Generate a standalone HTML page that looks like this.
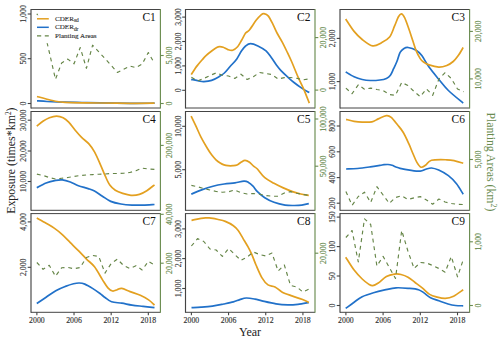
<!DOCTYPE html><html><head><meta charset="utf-8"><style>html,body{margin:0;padding:0;background:#fff;width:500px;height:341px;overflow:hidden}svg{display:block}text{font-family:"Liberation Serif",serif;stroke-width:0.14px}</style></head><body>
<svg width="500" height="341" viewBox="0 0 500 341">
<rect width="500" height="341" fill="#fff"/>
<defs><clipPath id="cp1"><rect x="31.00" y="9.50" width="129.40" height="98.50"/></clipPath><clipPath id="cp2"><rect x="185.50" y="9.50" width="129.50" height="98.50"/></clipPath><clipPath id="cp3"><rect x="340.00" y="9.50" width="129.60" height="98.50"/></clipPath><clipPath id="cp4"><rect x="31.00" y="111.50" width="129.40" height="98.80"/></clipPath><clipPath id="cp5"><rect x="185.50" y="111.50" width="129.50" height="98.80"/></clipPath><clipPath id="cp6"><rect x="340.00" y="111.50" width="129.60" height="98.80"/></clipPath><clipPath id="cp7"><rect x="31.00" y="213.60" width="129.40" height="98.70"/></clipPath><clipPath id="cp8"><rect x="185.50" y="213.60" width="129.50" height="98.70"/></clipPath><clipPath id="cp9"><rect x="340.00" y="213.60" width="129.60" height="98.70"/></clipPath></defs>
<g clip-path="url(#cp1)" fill="none" stroke-linejoin="round">
<path d="M37.00 100.80 C38.67 100.92 43.67 101.30 47.00 101.50 C50.33 101.70 54.00 101.88 57.00 102.00 C60.00 102.12 60.83 102.12 65.00 102.20 C69.17 102.28 76.17 102.38 82.00 102.50 C87.83 102.62 92.00 102.77 100.00 102.90 C108.00 103.03 120.90 103.25 130.00 103.30 C139.10 103.35 150.50 103.22 154.60 103.20" stroke="#2171C9" stroke-width="1.7"/>
<path d="M37.00 96.50 C38.67 96.95 43.67 98.37 47.00 99.20 C50.33 100.03 54.00 100.98 57.00 101.50 C60.00 102.02 60.83 102.08 65.00 102.30 C69.17 102.52 76.17 102.68 82.00 102.80 C87.83 102.92 92.00 102.92 100.00 103.00 C108.00 103.08 120.90 103.27 130.00 103.30 C139.10 103.33 150.50 103.22 154.60 103.20" stroke="#E3A020" stroke-width="1.7"/>
<path d="M36.88 13.80 L43.07 25.60 L49.26 52.00 L55.46 79.30 L61.65 63.00 L67.84 59.10 L74.03 63.80 L80.22 47.50 L86.41 68.30 L92.60 45.20 L98.80 51.80 L104.99 58.60 L111.18 65.40 L117.37 72.40 L123.56 69.20 L129.75 66.10 L135.94 67.60 L142.14 64.10 L148.33 52.50 L154.52 63.50" stroke="#658547" stroke-width="1.15" stroke-dasharray="3.9 3.8"/>
</g>
<rect x="34" y="15.2" width="66" height="28.0" fill="#fff"/>
<line x1="37" y1="18.8" x2="48.8" y2="18.8" stroke="#E3A020" stroke-width="1.5"/>
<line x1="37" y1="27.3" x2="48.8" y2="27.3" stroke="#2171C9" stroke-width="1.5"/>
<line x1="37" y1="35.9" x2="48.8" y2="35.9" stroke="#658547" stroke-width="1.1" stroke-dasharray="4.2 3.6"/>
<text x="55" y="21.0" font-size="7.1" fill="#333333" stroke="#333333">CDER<tspan font-size="5.4" dy="1.2">sd</tspan></text>
<text x="55" y="29.4" font-size="7.1" fill="#333333" stroke="#333333">CDER<tspan font-size="5.4" dy="1.2">dr</tspan></text>
<text x="55" y="38.0" font-size="7.1" fill="#333333" stroke="#333333">Planting Areas</text>
<path d="M31.00 9.50 H160.40" stroke="#444444" stroke-width="1.0" fill="none"/>
<path d="M31.00 108.00 H160.40" stroke="#444444" stroke-width="1.0" fill="none"/>
<path d="M31.00 9.00 V108.50" stroke="#444444" stroke-width="1.15" fill="none"/>
<path d="M160.40 9.00 V108.50" stroke="#6A8C50" stroke-width="1.15" fill="none"/>
<path d="M27.70 14.00 H31.00" stroke="#444444" stroke-width="1.1"/>
<text transform="translate(26.10 14.00) rotate(-90)" text-anchor="middle" font-size="7.8" fill="#333333" stroke="#333333">1,000</text>
<path d="M27.70 58.70 H31.00" stroke="#444444" stroke-width="1.1"/>
<text transform="translate(26.10 58.70) rotate(-90)" text-anchor="middle" font-size="7.8" fill="#333333" stroke="#333333">500</text>
<path d="M27.70 103.50 H31.00" stroke="#444444" stroke-width="1.1"/>
<text transform="translate(26.10 103.50) rotate(-90)" text-anchor="middle" font-size="7.8" fill="#333333" stroke="#333333">0</text>
<path d="M160.40 55.50 H163.70" stroke="#6A8C50" stroke-width="1.1"/>
<text transform="translate(171.70 55.50) rotate(-90)" text-anchor="middle" font-size="7.8" fill="#608445" stroke="#608445">5,000</text>
<path d="M160.40 103.50 H163.70" stroke="#6A8C50" stroke-width="1.1"/>
<text transform="translate(171.70 103.50) rotate(-90)" text-anchor="middle" font-size="7.8" fill="#608445" stroke="#608445">0</text>
<text x="155.80" y="20.80" text-anchor="end" font-size="11.5" fill="#111">C1</text>
<g clip-path="url(#cp2)" fill="none" stroke-linejoin="round">
<path d="M191.20 79.30 C192.47 79.58 196.68 80.62 198.80 81.00 C200.92 81.38 201.77 81.70 203.90 81.60 C206.03 81.50 209.03 81.25 211.60 80.40 C214.17 79.55 217.17 77.73 219.30 76.50 C221.43 75.27 222.57 74.70 224.40 73.00 C226.23 71.30 228.23 68.65 230.30 66.30 C232.37 63.95 234.92 61.48 236.80 58.90 C238.68 56.32 240.13 52.95 241.60 50.80 C243.07 48.65 244.12 47.20 245.60 46.00 C247.08 44.80 248.45 43.62 250.50 43.60 C252.55 43.58 255.32 44.68 257.90 45.90 C260.48 47.12 263.77 48.97 266.00 50.90 C268.23 52.83 269.57 55.15 271.30 57.50 C273.03 59.85 274.78 62.82 276.40 65.00 C278.02 67.18 279.17 68.65 281.00 70.60 C282.83 72.55 285.23 74.72 287.40 76.70 C289.57 78.68 291.73 80.68 294.00 82.50 C296.27 84.32 298.45 85.92 301.00 87.60 C303.55 89.28 307.92 91.77 309.30 92.60" stroke="#2171C9" stroke-width="1.7"/>
<path d="M191.30 74.60 C191.97 73.53 194.08 69.97 195.30 68.20 C196.52 66.43 197.45 65.40 198.60 64.00 C199.75 62.60 200.97 61.20 202.20 59.80 C203.43 58.40 204.37 57.10 206.00 55.60 C207.63 54.10 210.22 52.13 212.00 50.80 C213.78 49.47 215.43 48.28 216.70 47.60 C217.97 46.92 218.52 46.75 219.60 46.70 C220.68 46.65 221.82 46.82 223.20 47.30 C224.58 47.78 226.32 49.12 227.90 49.60 C229.48 50.08 231.08 50.67 232.70 50.20 C234.32 49.73 236.12 48.45 237.60 46.80 C239.08 45.15 240.27 42.58 241.60 40.30 C242.93 38.02 244.33 34.78 245.60 33.10 C246.87 31.42 247.42 32.37 249.20 30.20 C250.98 28.03 254.32 22.67 256.30 20.10 C258.28 17.53 259.82 15.88 261.10 14.80 C262.38 13.72 262.78 13.38 264.00 13.60 C265.22 13.82 266.87 14.22 268.40 16.10 C269.93 17.98 271.72 22.00 273.20 24.90 C274.68 27.80 275.82 30.67 277.30 33.50 C278.78 36.33 280.50 38.90 282.10 41.90 C283.70 44.90 285.28 48.15 286.90 51.50 C288.52 54.85 289.92 57.68 291.80 62.00 C293.68 66.32 296.20 72.85 298.20 77.40 C300.20 81.95 301.95 85.02 303.80 89.30 C305.65 93.58 308.38 100.80 309.30 103.10" stroke="#E3A020" stroke-width="1.7"/>
<path d="M191.39 77.20 L197.58 81.00 L203.78 78.50 L209.97 75.50 L216.17 72.90 L222.37 75.30 L228.56 76.00 L234.76 78.40 L240.96 74.20 L247.15 79.50 L253.35 76.70 L259.54 72.50 L265.74 73.50 L271.94 74.50 L278.13 79.00 L284.33 77.60 L290.53 77.50 L296.72 78.30 L302.92 79.90 L309.11 78.80" stroke="#658547" stroke-width="1.15" stroke-dasharray="3.9 3.8"/>
</g>
<path d="M185.50 9.50 H315.00" stroke="#444444" stroke-width="1.0" fill="none"/>
<path d="M185.50 108.00 H315.00" stroke="#444444" stroke-width="1.0" fill="none"/>
<path d="M185.50 9.00 V108.50" stroke="#444444" stroke-width="1.15" fill="none"/>
<path d="M315.00 9.00 V108.50" stroke="#6A8C50" stroke-width="1.15" fill="none"/>
<path d="M182.20 17.10 H185.50" stroke="#444444" stroke-width="1.1"/>
<text transform="translate(180.60 17.10) rotate(-90)" text-anchor="middle" font-size="7.8" fill="#333333" stroke="#333333">3,000</text>
<path d="M182.20 41.50 H185.50" stroke="#444444" stroke-width="1.1"/>
<text transform="translate(180.60 41.50) rotate(-90)" text-anchor="middle" font-size="7.8" fill="#333333" stroke="#333333">2,000</text>
<path d="M182.20 65.90 H185.50" stroke="#444444" stroke-width="1.1"/>
<text transform="translate(180.60 65.90) rotate(-90)" text-anchor="middle" font-size="7.8" fill="#333333" stroke="#333333">1,000</text>
<path d="M182.20 90.30 H185.50" stroke="#444444" stroke-width="1.1"/>
<text transform="translate(180.60 90.30) rotate(-90)" text-anchor="middle" font-size="7.8" fill="#333333" stroke="#333333">0</text>
<path d="M315.00 37.60 H318.30" stroke="#6A8C50" stroke-width="1.1"/>
<text transform="translate(326.30 37.60) rotate(-90)" text-anchor="middle" font-size="7.8" fill="#608445" stroke="#608445">20,000</text>
<path d="M315.00 90.10 H318.30" stroke="#6A8C50" stroke-width="1.1"/>
<text transform="translate(326.30 90.10) rotate(-90)" text-anchor="middle" font-size="7.8" fill="#608445" stroke="#608445">0</text>
<text x="310.40" y="20.80" text-anchor="end" font-size="11.5" fill="#111">C2</text>
<g clip-path="url(#cp3)" fill="none" stroke-linejoin="round">
<path d="M345.70 71.90 C347.10 72.72 351.35 75.53 354.10 76.80 C356.85 78.07 359.50 78.88 362.20 79.50 C364.90 80.12 367.35 80.42 370.30 80.50 C373.25 80.58 377.22 80.35 379.90 80.00 C382.58 79.65 384.65 79.20 386.40 78.40 C388.15 77.60 389.20 76.82 390.40 75.20 C391.60 73.58 392.52 70.98 393.60 68.70 C394.68 66.42 395.82 64.22 396.90 61.50 C397.98 58.78 398.92 54.57 400.10 52.40 C401.28 50.23 402.67 49.32 404.00 48.50 C405.33 47.68 406.08 47.20 408.10 47.50 C410.12 47.80 413.82 48.95 416.10 50.30 C418.38 51.65 419.65 52.80 421.80 55.60 C423.95 58.40 426.18 63.17 429.00 67.10 C431.82 71.03 435.47 75.30 438.70 79.20 C441.93 83.10 444.32 86.52 448.40 90.50 C452.48 94.48 460.73 101.00 463.20 103.10" stroke="#2171C9" stroke-width="1.7"/>
<path d="M345.70 19.00 C347.10 21.07 351.35 27.98 354.10 31.40 C356.85 34.82 359.10 37.08 362.20 39.50 C365.30 41.92 369.48 45.37 372.70 45.90 C375.92 46.43 378.68 44.18 381.50 42.70 C384.32 41.22 387.43 39.75 389.60 37.00 C391.77 34.25 393.05 29.53 394.50 26.20 C395.95 22.87 397.17 19.05 398.30 17.00 C399.43 14.95 400.25 13.80 401.30 13.90 C402.35 14.00 403.33 15.08 404.60 17.60 C405.87 20.12 407.52 25.08 408.90 29.00 C410.28 32.92 411.70 37.48 412.90 41.10 C414.10 44.72 414.88 47.78 416.10 50.70 C417.32 53.62 418.97 56.72 420.20 58.60 C421.43 60.48 422.03 60.95 423.50 62.00 C424.97 63.05 426.47 64.05 429.00 64.90 C431.53 65.75 435.73 67.00 438.70 67.10 C441.67 67.20 444.38 66.43 446.80 65.50 C449.22 64.57 451.32 63.12 453.20 61.50 C455.08 59.88 456.43 58.13 458.10 55.80 C459.77 53.47 462.35 48.88 463.20 47.50" stroke="#E3A020" stroke-width="1.7"/>
<path d="M345.89 88.10 L352.09 93.70 L358.29 84.80 L364.49 89.30 L370.69 88.10 L376.90 89.50 L383.10 90.50 L389.30 94.50 L395.50 95.30 L401.70 82.40 L407.90 85.60 L414.10 91.50 L420.30 96.60 L426.50 88.90 L432.70 95.30 L438.91 79.00 L445.11 72.70 L451.31 78.50 L457.51 89.00 L463.71 91.80" stroke="#658547" stroke-width="1.15" stroke-dasharray="3.9 3.8"/>
</g>
<path d="M340.00 9.50 H469.60" stroke="#444444" stroke-width="1.0" fill="none"/>
<path d="M340.00 108.00 H469.60" stroke="#444444" stroke-width="1.0" fill="none"/>
<path d="M340.00 9.00 V108.50" stroke="#444444" stroke-width="1.15" fill="none"/>
<path d="M469.60 9.00 V108.50" stroke="#6A8C50" stroke-width="1.15" fill="none"/>
<path d="M336.70 38.40 H340.00" stroke="#444444" stroke-width="1.1"/>
<text transform="translate(335.10 38.40) rotate(-90)" text-anchor="middle" font-size="7.8" fill="#333333" stroke="#333333">2,000</text>
<path d="M336.70 81.60 H340.00" stroke="#444444" stroke-width="1.1"/>
<text transform="translate(335.10 81.60) rotate(-90)" text-anchor="middle" font-size="7.8" fill="#333333" stroke="#333333">1,000</text>
<path d="M469.60 31.40 H472.90" stroke="#6A8C50" stroke-width="1.1"/>
<text transform="translate(480.90 31.40) rotate(-90)" text-anchor="middle" font-size="7.8" fill="#608445" stroke="#608445">20,000</text>
<path d="M469.60 78.90 H472.90" stroke="#6A8C50" stroke-width="1.1"/>
<text transform="translate(480.90 78.90) rotate(-90)" text-anchor="middle" font-size="7.8" fill="#608445" stroke="#608445">10,000</text>
<text x="465.00" y="20.80" text-anchor="end" font-size="11.5" fill="#111">C3</text>
<g clip-path="url(#cp4)" fill="none" stroke-linejoin="round">
<path d="M36.80 187.80 C38.35 187.00 42.93 184.23 46.10 183.00 C49.27 181.77 53.10 180.92 55.80 180.40 C58.50 179.88 59.88 179.63 62.30 179.90 C64.72 180.17 67.62 181.03 70.30 182.00 C72.98 182.97 75.43 184.60 78.40 185.70 C81.37 186.80 85.42 187.70 88.10 188.60 C90.78 189.50 92.12 189.83 94.50 191.10 C96.88 192.37 99.70 194.48 102.40 196.20 C105.10 197.92 107.62 200.10 110.70 201.40 C113.78 202.70 117.35 203.38 120.90 204.00 C124.45 204.62 128.30 204.92 132.00 205.10 C135.70 205.28 139.35 205.20 143.10 205.10 C146.85 205.00 152.60 204.60 154.50 204.50" stroke="#2171C9" stroke-width="1.7"/>
<path d="M36.80 126.10 C37.82 125.30 40.80 122.70 42.90 121.30 C45.00 119.90 47.12 118.57 49.40 117.70 C51.68 116.83 54.32 116.10 56.60 116.10 C58.88 116.10 61.08 116.70 63.10 117.70 C65.12 118.70 66.68 120.02 68.70 122.10 C70.72 124.18 73.05 127.65 75.20 130.20 C77.35 132.75 79.32 135.12 81.60 137.40 C83.88 139.68 86.75 141.48 88.90 143.90 C91.05 146.32 92.57 148.42 94.50 151.90 C96.43 155.38 98.72 160.80 100.50 164.80 C102.28 168.80 103.65 172.52 105.20 175.90 C106.75 179.28 108.12 182.70 109.80 185.10 C111.48 187.50 113.15 188.92 115.30 190.30 C117.45 191.68 120.08 192.57 122.70 193.40 C125.32 194.23 128.22 195.13 131.00 195.30 C133.78 195.47 136.77 195.17 139.40 194.40 C142.03 193.63 144.28 192.30 146.80 190.70 C149.32 189.10 153.22 185.78 154.50 184.80" stroke="#E3A020" stroke-width="1.7"/>
<path d="M36.88 174.10 L43.07 175.50 L49.26 177.50 L55.46 179.00 L61.65 178.30 L67.84 177.50 L74.03 176.50 L80.22 175.50 L86.41 175.00 L92.60 174.60 L98.80 174.20 L104.99 174.00 L111.18 173.50 L117.37 173.50 L123.56 173.30 L129.75 172.50 L135.94 170.80 L142.14 168.10 L148.33 169.00 L154.52 169.40" stroke="#658547" stroke-width="1.15" stroke-dasharray="3.9 3.8"/>
</g>
<path d="M31.00 111.50 H160.40" stroke="#444444" stroke-width="1.0" fill="none"/>
<path d="M31.00 210.30 H160.40" stroke="#444444" stroke-width="1.0" fill="none"/>
<path d="M31.00 111.00 V210.80" stroke="#444444" stroke-width="1.15" fill="none"/>
<path d="M160.40 111.00 V210.80" stroke="#6A8C50" stroke-width="1.15" fill="none"/>
<path d="M27.70 120.20 H31.00" stroke="#444444" stroke-width="1.1"/>
<text transform="translate(26.10 120.20) rotate(-90)" text-anchor="middle" font-size="7.8" fill="#333333" stroke="#333333">30,000</text>
<path d="M27.70 151.00 H31.00" stroke="#444444" stroke-width="1.1"/>
<text transform="translate(26.10 151.00) rotate(-90)" text-anchor="middle" font-size="7.8" fill="#333333" stroke="#333333">20,000</text>
<path d="M27.70 181.50 H31.00" stroke="#444444" stroke-width="1.1"/>
<text transform="translate(26.10 181.50) rotate(-90)" text-anchor="middle" font-size="7.8" fill="#333333" stroke="#333333">10,000</text>
<path d="M160.40 145.40 H163.70" stroke="#6A8C50" stroke-width="1.1"/>
<text transform="translate(171.70 145.40) rotate(-90)" text-anchor="middle" font-size="7.8" fill="#608445" stroke="#608445">200,000</text>
<text x="155.80" y="122.80" text-anchor="end" font-size="11.5" fill="#111">C4</text>
<g clip-path="url(#cp5)" fill="none" stroke-linejoin="round">
<path d="M191.30 194.10 C192.92 193.43 197.38 191.42 201.00 190.10 C204.62 188.78 209.13 187.22 213.00 186.20 C216.87 185.18 220.55 184.57 224.20 184.00 C227.85 183.43 231.60 183.27 234.90 182.80 C238.20 182.33 241.73 181.27 244.00 181.20 C246.27 181.13 247.00 181.57 248.50 182.40 C250.00 183.23 251.52 184.67 253.00 186.20 C254.48 187.73 255.43 189.68 257.40 191.60 C259.37 193.52 262.03 195.92 264.80 197.70 C267.57 199.48 270.62 201.07 274.00 202.30 C277.38 203.53 281.70 204.57 285.10 205.10 C288.50 205.63 291.62 205.50 294.40 205.50 C297.18 205.50 299.40 205.42 301.80 205.10 C304.20 204.78 307.63 203.85 308.80 203.60" stroke="#2171C9" stroke-width="1.7"/>
<path d="M191.10 116.10 C191.97 117.90 194.63 123.35 196.30 126.90 C197.97 130.45 199.22 133.77 201.10 137.40 C202.98 141.03 205.78 145.72 207.60 148.70 C209.42 151.68 210.60 153.45 212.00 155.30 C213.40 157.15 214.63 158.52 216.00 159.80 C217.37 161.08 218.87 162.15 220.20 163.00 C221.53 163.85 222.70 164.45 224.00 164.90 C225.30 165.35 226.50 165.57 228.00 165.70 C229.50 165.83 231.50 165.82 233.00 165.70 C234.50 165.58 235.67 165.57 237.00 165.00 C238.33 164.43 239.67 163.07 241.00 162.30 C242.33 161.53 243.58 160.42 245.00 160.40 C246.42 160.38 248.07 161.23 249.50 162.20 C250.93 163.17 252.28 165.07 253.60 166.20 C254.92 167.33 255.53 167.08 257.40 169.00 C259.27 170.92 262.03 175.32 264.80 177.70 C267.57 180.08 270.92 181.60 274.00 183.30 C277.08 185.00 280.22 186.52 283.30 187.90 C286.38 189.28 289.58 190.58 292.50 191.60 C295.42 192.62 298.08 193.38 300.80 194.00 C303.52 194.62 307.47 195.08 308.80 195.30" stroke="#E3A020" stroke-width="1.7"/>
<path d="M191.39 185.40 L197.58 186.80 L203.78 188.50 L209.97 190.00 L216.17 191.50 L222.37 192.20 L228.56 191.80 L234.76 190.00 L240.96 192.80 L247.15 194.00 L253.35 193.50 L259.54 194.30 L265.74 195.50 L271.94 196.20 L278.13 196.20 L284.33 193.00 L290.53 191.60 L296.72 193.20 L302.92 194.50 L309.11 195.30" stroke="#658547" stroke-width="1.15" stroke-dasharray="3.9 3.8"/>
</g>
<path d="M185.50 111.50 H315.00" stroke="#444444" stroke-width="1.0" fill="none"/>
<path d="M185.50 210.30 H315.00" stroke="#444444" stroke-width="1.0" fill="none"/>
<path d="M185.50 111.00 V210.80" stroke="#444444" stroke-width="1.15" fill="none"/>
<path d="M315.00 111.00 V210.80" stroke="#6A8C50" stroke-width="1.15" fill="none"/>
<path d="M182.20 126.30 H185.50" stroke="#444444" stroke-width="1.1"/>
<text transform="translate(180.60 126.30) rotate(-90)" text-anchor="middle" font-size="7.8" fill="#333333" stroke="#333333">10,000</text>
<path d="M182.20 169.70 H185.50" stroke="#444444" stroke-width="1.1"/>
<text transform="translate(180.60 169.70) rotate(-90)" text-anchor="middle" font-size="7.8" fill="#333333" stroke="#333333">5,000</text>
<path d="M315.00 119.00 H318.30" stroke="#6A8C50" stroke-width="1.1"/>
<text transform="translate(326.30 119.00) rotate(-90)" text-anchor="middle" font-size="7.8" fill="#608445" stroke="#608445">100,000</text>
<path d="M315.00 166.20 H318.30" stroke="#6A8C50" stroke-width="1.1"/>
<text transform="translate(326.30 166.20) rotate(-90)" text-anchor="middle" font-size="7.8" fill="#608445" stroke="#608445">50,000</text>
<text x="310.40" y="122.80" text-anchor="end" font-size="11.5" fill="#111">C5</text>
<g clip-path="url(#cp6)" fill="none" stroke-linejoin="round">
<path d="M346.10 169.00 C347.98 168.92 353.37 168.85 357.40 168.50 C361.43 168.15 366.55 167.42 370.30 166.90 C374.05 166.38 377.62 165.77 379.90 165.40 C382.18 165.03 382.65 164.85 384.00 164.70 C385.35 164.55 386.67 164.40 388.00 164.50 C389.33 164.60 390.67 164.88 392.00 165.30 C393.33 165.72 394.65 166.50 396.00 167.00 C397.35 167.50 397.82 167.78 400.10 168.30 C402.38 168.82 406.35 169.62 409.70 170.10 C413.05 170.58 417.52 171.33 420.20 171.20 C422.88 171.07 423.92 169.83 425.80 169.30 C427.68 168.77 429.35 167.87 431.50 168.00 C433.65 168.13 435.88 168.82 438.70 170.10 C441.52 171.38 445.43 173.42 448.40 175.70 C451.37 177.98 454.03 180.70 456.50 183.80 C458.97 186.90 462.08 192.55 463.20 194.30" stroke="#2171C9" stroke-width="1.7"/>
<path d="M346.10 119.40 C347.43 119.72 351.42 120.85 354.10 121.30 C356.78 121.75 359.23 122.02 362.20 122.10 C365.17 122.18 369.22 122.33 371.90 121.80 C374.58 121.27 375.88 119.93 378.30 118.90 C380.72 117.87 384.25 115.87 386.40 115.60 C388.55 115.33 389.32 115.73 391.20 117.30 C393.08 118.87 395.68 122.47 397.70 125.00 C399.72 127.53 401.43 129.35 403.30 132.50 C405.17 135.65 407.30 140.40 408.90 143.90 C410.50 147.40 411.57 150.42 412.90 153.50 C414.23 156.58 415.55 160.12 416.90 162.40 C418.25 164.68 419.52 166.77 421.00 167.20 C422.48 167.63 424.05 166.15 425.80 165.00 C427.55 163.85 428.00 161.17 431.50 160.30 C435.00 159.43 442.92 159.72 446.80 159.80 C450.68 159.88 452.07 160.23 454.80 160.80 C457.53 161.37 461.80 162.80 463.20 163.20" stroke="#E3A020" stroke-width="1.7"/>
<path d="M345.89 191.50 L352.09 205.30 L358.29 196.50 L364.49 192.20 L370.69 202.50 L376.90 186.70 L383.10 195.00 L389.30 203.40 L395.50 197.50 L401.70 195.80 L407.90 199.50 L414.10 197.80 L420.30 196.60 L426.50 200.00 L432.70 204.20 L438.91 199.00 L445.11 202.00 L451.31 203.50 L457.51 204.30 L463.71 204.50" stroke="#658547" stroke-width="1.15" stroke-dasharray="3.9 3.8"/>
</g>
<path d="M340.00 111.50 H469.60" stroke="#444444" stroke-width="1.0" fill="none"/>
<path d="M340.00 210.30 H469.60" stroke="#444444" stroke-width="1.0" fill="none"/>
<path d="M340.00 111.00 V210.80" stroke="#444444" stroke-width="1.15" fill="none"/>
<path d="M469.60 111.00 V210.80" stroke="#6A8C50" stroke-width="1.15" fill="none"/>
<path d="M336.70 126.00 H340.00" stroke="#444444" stroke-width="1.1"/>
<text transform="translate(335.10 126.00) rotate(-90)" text-anchor="middle" font-size="7.8" fill="#333333" stroke="#333333">800</text>
<path d="M336.70 151.80 H340.00" stroke="#444444" stroke-width="1.1"/>
<text transform="translate(335.10 151.80) rotate(-90)" text-anchor="middle" font-size="7.8" fill="#333333" stroke="#333333">600</text>
<path d="M336.70 177.60 H340.00" stroke="#444444" stroke-width="1.1"/>
<text transform="translate(335.10 177.60) rotate(-90)" text-anchor="middle" font-size="7.8" fill="#333333" stroke="#333333">400</text>
<path d="M336.70 203.20 H340.00" stroke="#444444" stroke-width="1.1"/>
<text transform="translate(335.10 203.20) rotate(-90)" text-anchor="middle" font-size="7.8" fill="#333333" stroke="#333333">200</text>
<path d="M469.60 159.50 H472.90" stroke="#6A8C50" stroke-width="1.1"/>
<text transform="translate(480.90 159.50) rotate(-90)" text-anchor="middle" font-size="7.8" fill="#608445" stroke="#608445">5,000</text>
<text x="465.00" y="122.80" text-anchor="end" font-size="11.5" fill="#111">C6</text>
<g clip-path="url(#cp7)" fill="none" stroke-linejoin="round">
<path d="M36.80 303.50 C38.35 302.45 42.93 299.33 46.10 297.20 C49.27 295.07 52.57 292.50 55.80 290.70 C59.03 288.90 62.55 287.55 65.50 286.40 C68.45 285.25 71.22 284.37 73.50 283.80 C75.78 283.23 77.32 282.95 79.20 283.00 C81.08 283.05 82.52 283.17 84.80 284.10 C87.08 285.03 90.37 287.03 92.90 288.60 C95.43 290.17 97.98 292.02 100.00 293.50 C102.02 294.98 103.07 296.12 105.00 297.50 C106.93 298.88 108.80 300.85 111.60 301.80 C114.40 302.75 118.40 302.65 121.80 303.20 C125.20 303.75 128.45 304.57 132.00 305.10 C135.55 305.63 139.35 305.97 143.10 306.40 C146.85 306.83 152.60 307.48 154.50 307.70" stroke="#2171C9" stroke-width="1.7"/>
<path d="M36.80 218.10 C38.35 218.97 43.20 221.63 46.10 223.30 C49.00 224.97 51.50 226.22 54.20 228.10 C56.90 229.98 59.62 232.18 62.30 234.60 C64.98 237.02 67.62 239.92 70.30 242.60 C72.98 245.28 75.70 247.95 78.40 250.70 C81.10 253.45 83.82 256.42 86.50 259.10 C89.18 261.78 91.85 263.38 94.50 266.80 C97.15 270.22 100.17 276.08 102.40 279.60 C104.63 283.12 106.20 286.00 107.90 287.90 C109.60 289.80 111.05 290.70 112.60 291.00 C114.15 291.30 115.67 290.13 117.20 289.70 C118.73 289.27 119.65 288.08 121.80 288.40 C123.95 288.72 127.02 290.45 130.10 291.60 C133.18 292.75 137.22 293.92 140.30 295.30 C143.38 296.68 146.23 298.27 148.60 299.90 C150.97 301.53 153.52 304.23 154.50 305.10" stroke="#E3A020" stroke-width="1.7"/>
<path d="M36.88 262.50 L43.07 269.30 L49.26 265.30 L55.46 276.20 L61.65 267.80 L67.84 267.40 L74.03 268.80 L80.22 267.50 L86.41 257.50 L92.60 255.50 L98.80 256.50 L104.99 273.10 L111.18 263.50 L117.37 259.20 L123.56 265.50 L129.75 268.50 L135.94 265.70 L142.14 270.00 L148.33 261.30 L154.52 265.00" stroke="#658547" stroke-width="1.15" stroke-dasharray="3.9 3.8"/>
</g>
<path d="M31.00 213.60 H160.40" stroke="#444444" stroke-width="1.0" fill="none"/>
<path d="M31.00 312.30 H160.40" stroke="#444444" stroke-width="1.0" fill="none"/>
<path d="M31.00 213.10 V312.80" stroke="#444444" stroke-width="1.15" fill="none"/>
<path d="M160.40 213.10 V312.80" stroke="#6A8C50" stroke-width="1.15" fill="none"/>
<path d="M27.70 221.90 H31.00" stroke="#444444" stroke-width="1.1"/>
<text transform="translate(26.10 221.90) rotate(-90)" text-anchor="middle" font-size="7.8" fill="#333333" stroke="#333333">4,000</text>
<path d="M27.70 267.30 H31.00" stroke="#444444" stroke-width="1.1"/>
<text transform="translate(26.10 267.30) rotate(-90)" text-anchor="middle" font-size="7.8" fill="#333333" stroke="#333333">2,000</text>
<path d="M160.40 214.30 H163.70" stroke="#6A8C50" stroke-width="1.1"/>
<text transform="translate(171.70 214.30) rotate(-90)" text-anchor="middle" font-size="7.8" fill="#608445" stroke="#608445">40,000</text>
<path d="M160.40 263.20 H163.70" stroke="#6A8C50" stroke-width="1.1"/>
<text transform="translate(171.70 263.20) rotate(-90)" text-anchor="middle" font-size="7.8" fill="#608445" stroke="#608445">20,000</text>
<text x="155.80" y="224.90" text-anchor="end" font-size="11.5" fill="#111">C7</text>
<path d="M36.88 312.30 V315.30" stroke="#444444" stroke-width="1.1"/>
<text x="36.88" y="322.70" text-anchor="middle" font-size="7.8" fill="#333333" stroke="#333333">2000</text>
<path d="M74.03 312.30 V315.30" stroke="#444444" stroke-width="1.1"/>
<text x="74.03" y="322.70" text-anchor="middle" font-size="7.8" fill="#333333" stroke="#333333">2006</text>
<path d="M111.18 312.30 V315.30" stroke="#444444" stroke-width="1.1"/>
<text x="111.18" y="322.70" text-anchor="middle" font-size="7.8" fill="#333333" stroke="#333333">2012</text>
<path d="M148.33 312.30 V315.30" stroke="#444444" stroke-width="1.1"/>
<text x="148.33" y="322.70" text-anchor="middle" font-size="7.8" fill="#333333" stroke="#333333">2018</text>
<g clip-path="url(#cp8)" fill="none" stroke-linejoin="round">
<path d="M191.50 307.70 C193.10 307.62 197.62 307.47 201.10 307.20 C204.58 306.93 208.63 306.63 212.40 306.10 C216.17 305.57 220.20 304.70 223.70 304.00 C227.20 303.30 230.72 302.63 233.40 301.90 C236.08 301.17 237.65 300.25 239.80 299.60 C241.95 298.95 243.77 298.08 246.30 298.00 C248.83 297.92 252.38 298.62 255.00 299.10 C257.62 299.58 258.50 300.10 262.00 300.90 C265.50 301.70 271.68 303.23 276.00 303.90 C280.32 304.57 284.25 304.83 287.90 304.90 C291.55 304.97 294.40 304.70 297.90 304.30 C301.40 303.90 307.07 302.80 308.90 302.50" stroke="#2171C9" stroke-width="1.7"/>
<path d="M191.50 220.40 C192.25 220.22 194.40 219.63 196.00 219.30 C197.60 218.97 199.52 218.63 201.10 218.40 C202.68 218.17 204.15 218.00 205.50 217.90 C206.85 217.80 207.95 217.73 209.20 217.80 C210.45 217.87 211.65 218.05 213.00 218.30 C214.35 218.55 215.25 218.78 217.30 219.30 C219.35 219.82 222.62 220.33 225.30 221.40 C227.98 222.47 231.25 224.18 233.40 225.70 C235.55 227.22 236.58 228.35 238.20 230.50 C239.82 232.65 241.48 235.90 243.10 238.60 C244.72 241.30 246.43 244.02 247.90 246.70 C249.37 249.38 250.55 251.65 251.90 254.70 C253.25 257.75 254.32 261.13 256.00 265.00 C257.68 268.87 260.00 274.58 262.00 277.90 C264.00 281.22 265.83 283.40 268.00 284.90 C270.17 286.40 272.68 285.73 275.00 286.90 C277.32 288.07 279.08 290.40 281.90 291.90 C284.72 293.40 288.57 294.67 291.90 295.90 C295.23 297.13 299.07 298.20 301.90 299.30 C304.73 300.40 307.73 301.97 308.90 302.50" stroke="#E3A020" stroke-width="1.7"/>
<path d="M191.39 246.00 L197.58 238.60 L203.78 241.50 L209.97 249.00 L216.17 250.00 L222.37 256.40 L228.56 248.50 L234.76 254.50 L240.96 260.40 L247.15 257.00 L253.35 252.00 L259.54 254.50 L265.74 256.00 L271.94 253.00 L278.13 271.00 L284.33 265.00 L290.53 285.50 L296.72 287.00 L302.92 292.00 L309.11 289.00" stroke="#658547" stroke-width="1.15" stroke-dasharray="3.9 3.8"/>
</g>
<path d="M185.50 213.60 H315.00" stroke="#444444" stroke-width="1.0" fill="none"/>
<path d="M185.50 312.30 H315.00" stroke="#444444" stroke-width="1.0" fill="none"/>
<path d="M185.50 213.10 V312.80" stroke="#444444" stroke-width="1.15" fill="none"/>
<path d="M315.00 213.10 V312.80" stroke="#6A8C50" stroke-width="1.15" fill="none"/>
<path d="M182.20 228.90 H185.50" stroke="#444444" stroke-width="1.1"/>
<text transform="translate(180.60 228.90) rotate(-90)" text-anchor="middle" font-size="7.8" fill="#333333" stroke="#333333">3,000</text>
<path d="M182.20 258.60 H185.50" stroke="#444444" stroke-width="1.1"/>
<text transform="translate(180.60 258.60) rotate(-90)" text-anchor="middle" font-size="7.8" fill="#333333" stroke="#333333">2,000</text>
<path d="M182.20 288.50 H185.50" stroke="#444444" stroke-width="1.1"/>
<text transform="translate(180.60 288.50) rotate(-90)" text-anchor="middle" font-size="7.8" fill="#333333" stroke="#333333">1,000</text>
<path d="M315.00 253.20 H318.30" stroke="#6A8C50" stroke-width="1.1"/>
<text transform="translate(326.30 253.20) rotate(-90)" text-anchor="middle" font-size="7.8" fill="#608445" stroke="#608445">20,000</text>
<text x="310.40" y="224.90" text-anchor="end" font-size="11.5" fill="#111">C8</text>
<path d="M191.39 312.30 V315.30" stroke="#444444" stroke-width="1.1"/>
<text x="191.39" y="322.70" text-anchor="middle" font-size="7.8" fill="#333333" stroke="#333333">2000</text>
<path d="M228.56 312.30 V315.30" stroke="#444444" stroke-width="1.1"/>
<text x="228.56" y="322.70" text-anchor="middle" font-size="7.8" fill="#333333" stroke="#333333">2006</text>
<path d="M265.74 312.30 V315.30" stroke="#444444" stroke-width="1.1"/>
<text x="265.74" y="322.70" text-anchor="middle" font-size="7.8" fill="#333333" stroke="#333333">2012</text>
<path d="M302.92 312.30 V315.30" stroke="#444444" stroke-width="1.1"/>
<text x="302.92" y="322.70" text-anchor="middle" font-size="7.8" fill="#333333" stroke="#333333">2018</text>
<g clip-path="url(#cp9)" fill="none" stroke-linejoin="round">
<path d="M345.70 308.40 C347.10 307.37 351.35 304.15 354.10 302.20 C356.85 300.25 358.97 298.28 362.20 296.70 C365.43 295.12 369.73 293.83 373.50 292.70 C377.27 291.57 381.03 290.72 384.80 289.90 C388.57 289.08 392.03 288.05 396.10 287.80 C400.17 287.55 405.47 288.08 409.20 288.40 C412.93 288.72 416.03 288.95 418.50 289.70 C420.97 290.45 422.00 291.57 424.00 292.90 C426.00 294.23 428.03 296.38 430.50 297.70 C432.97 299.02 435.87 299.75 438.80 300.80 C441.73 301.85 445.32 303.22 448.10 304.00 C450.88 304.78 452.98 305.20 455.50 305.50 C458.02 305.80 461.92 305.75 463.20 305.80" stroke="#2171C9" stroke-width="1.7"/>
<path d="M345.70 257.20 C347.10 259.35 351.35 266.47 354.10 270.10 C356.85 273.73 359.78 276.67 362.20 279.00 C364.62 281.33 366.85 282.98 368.60 284.10 C370.35 285.22 371.08 285.88 372.70 285.70 C374.32 285.52 376.02 284.53 378.30 283.00 C380.58 281.47 383.70 277.98 386.40 276.50 C389.10 275.02 392.07 274.43 394.50 274.10 C396.93 273.77 398.75 273.98 401.00 274.50 C403.25 275.02 405.70 275.90 408.00 277.20 C410.30 278.50 412.43 280.52 414.80 282.30 C417.17 284.08 419.73 285.88 422.20 287.90 C424.67 289.92 427.13 292.87 429.60 294.40 C432.07 295.93 434.38 296.43 437.00 297.10 C439.62 297.77 442.53 298.55 445.30 298.40 C448.07 298.25 450.62 297.65 453.60 296.20 C456.58 294.75 461.60 290.78 463.20 289.70" stroke="#E3A020" stroke-width="1.7"/>
<path d="M345.89 237.50 L352.09 230.50 L358.29 262.00 L364.49 218.80 L370.69 224.50 L376.90 266.00 L383.10 256.40 L389.30 267.50 L395.50 278.50 L401.70 230.50 L407.90 251.00 L414.10 268.50 L420.30 262.50 L426.50 263.00 L432.70 265.50 L438.91 268.50 L445.11 272.20 L451.31 256.50 L457.51 276.80 L463.71 258.30" stroke="#658547" stroke-width="1.15" stroke-dasharray="3.9 3.8"/>
</g>
<path d="M340.00 213.60 H469.60" stroke="#444444" stroke-width="1.0" fill="none"/>
<path d="M340.00 312.30 H469.60" stroke="#444444" stroke-width="1.0" fill="none"/>
<path d="M340.00 213.10 V312.80" stroke="#444444" stroke-width="1.15" fill="none"/>
<path d="M469.60 213.10 V312.80" stroke="#6A8C50" stroke-width="1.15" fill="none"/>
<path d="M336.70 217.10 H340.00" stroke="#444444" stroke-width="1.1"/>
<text transform="translate(335.10 217.10) rotate(-90)" text-anchor="middle" font-size="7.8" fill="#333333" stroke="#333333">150</text>
<path d="M336.70 246.60 H340.00" stroke="#444444" stroke-width="1.1"/>
<text transform="translate(335.10 246.60) rotate(-90)" text-anchor="middle" font-size="7.8" fill="#333333" stroke="#333333">100</text>
<path d="M336.70 276.00 H340.00" stroke="#444444" stroke-width="1.1"/>
<text transform="translate(335.10 276.00) rotate(-90)" text-anchor="middle" font-size="7.8" fill="#333333" stroke="#333333">50</text>
<path d="M336.70 305.50 H340.00" stroke="#444444" stroke-width="1.1"/>
<text transform="translate(335.10 305.50) rotate(-90)" text-anchor="middle" font-size="7.8" fill="#333333" stroke="#333333">0</text>
<path d="M469.60 241.80 H472.90" stroke="#6A8C50" stroke-width="1.1"/>
<text transform="translate(480.90 241.80) rotate(-90)" text-anchor="middle" font-size="7.8" fill="#608445" stroke="#608445">1,000</text>
<path d="M469.60 305.50 H472.90" stroke="#6A8C50" stroke-width="1.1"/>
<text transform="translate(480.90 305.50) rotate(-90)" text-anchor="middle" font-size="7.8" fill="#608445" stroke="#608445">0</text>
<text x="465.00" y="224.90" text-anchor="end" font-size="11.5" fill="#111">C9</text>
<path d="M345.89 312.30 V315.30" stroke="#444444" stroke-width="1.1"/>
<text x="345.89" y="322.70" text-anchor="middle" font-size="7.8" fill="#333333" stroke="#333333">2000</text>
<path d="M383.10 312.30 V315.30" stroke="#444444" stroke-width="1.1"/>
<text x="383.10" y="322.70" text-anchor="middle" font-size="7.8" fill="#333333" stroke="#333333">2006</text>
<path d="M420.30 312.30 V315.30" stroke="#444444" stroke-width="1.1"/>
<text x="420.30" y="322.70" text-anchor="middle" font-size="7.8" fill="#333333" stroke="#333333">2012</text>
<path d="M457.51 312.30 V315.30" stroke="#444444" stroke-width="1.1"/>
<text x="457.51" y="322.70" text-anchor="middle" font-size="7.8" fill="#333333" stroke="#333333">2018</text>
<text x="250.0" y="336.0" text-anchor="middle" font-size="12" fill="#222">Year</text>
<text transform="translate(14.7 160.7) rotate(-90)" text-anchor="middle" font-size="11.9" fill="#222">Exposure (times*km<tspan font-size="7.2" dy="-3.6">2</tspan><tspan dy="3.6">)</tspan></text>
<text transform="translate(486.6 161.9) rotate(90)" text-anchor="middle" font-size="11.8" fill="#6A8C50">Planting Areas (km<tspan font-size="8" dy="-4">2</tspan><tspan dy="4">)</tspan></text>
</svg></body></html>
